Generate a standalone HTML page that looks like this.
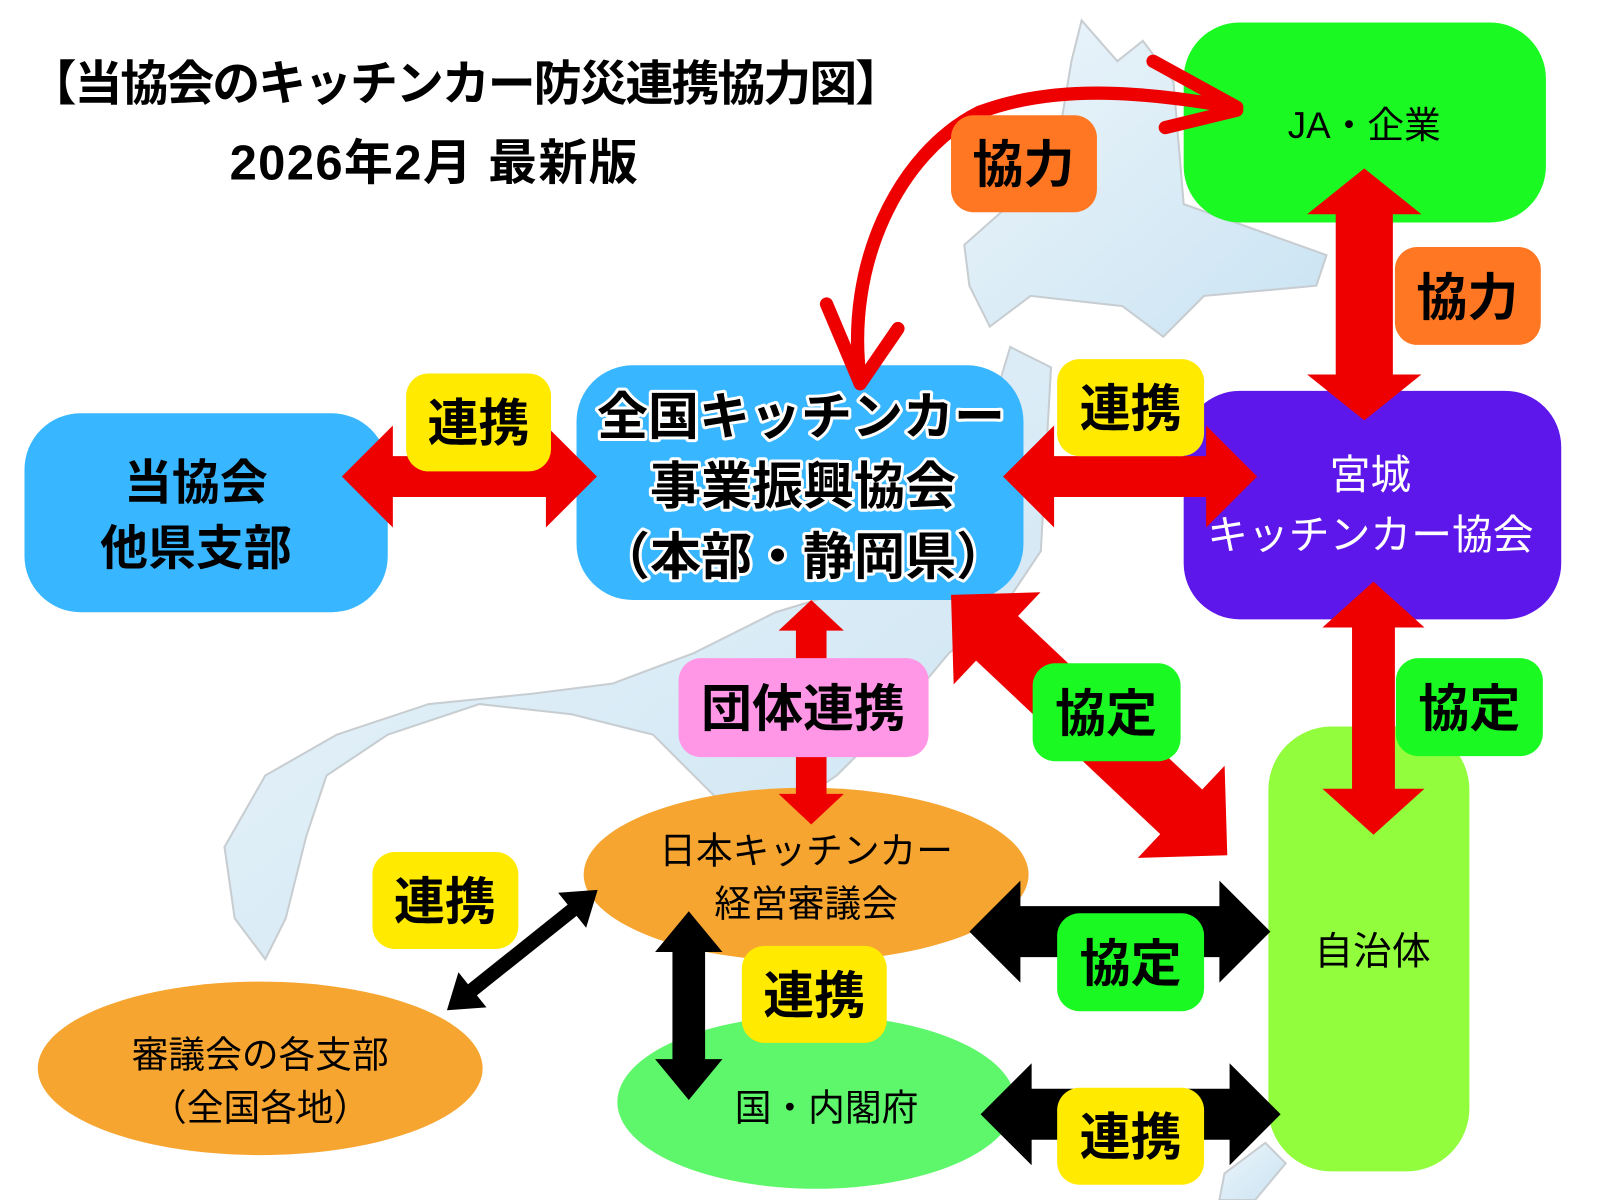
<!DOCTYPE html>
<html><head><meta charset="utf-8"><style>
html,body{margin:0;padding:0;background:#fff;}
svg{display:block;}
text{font-family:"Liberation Sans","Noto Sans CJK JP",sans-serif;}
</style></head><body>
<svg width="1600" height="1200" viewBox="0 0 1568 1176" xmlns="http://www.w3.org/2000/svg">
<defs>
<linearGradient id="mg" x1="0" y1="0" x2="1" y2="1">
<stop offset="0" stop-color="#e6f2fa"/><stop offset="1" stop-color="#b4d8ee"/>
</linearGradient>
</defs>
<rect width="1568" height="1176" fill="#fff"/>
<!-- faint map -->
<g fill="url(#mg)" stroke="#b0b8be" stroke-width="2" opacity="0.7">
<path d="M1060,20 L1095,60 L1120,40 L1150,80 L1160,200 L1300,250 L1290,280 L1180,290 L1140,330 L1100,300 L1010,290 L970,320 L950,280 L945,240 L990,200 L1000,140 L1040,120 L1050,60 Z"/>
<path d="M990,340 L1030,360 L1020,540 L980,600 L930,640 L880,700 L820,760 L760,800 L700,780 L640,720 L560,700 L470,690 L380,720 L320,760 L300,820 L280,900 L260,940 L230,900 L220,830 L260,760 L330,720 L420,690 L520,680 L600,670 L680,640 L760,600 L860,570 L930,520 L960,440 Z"/>
<path d="M1200,1150 L1240,1120 L1260,1140 L1230,1176 L1195,1176 Z"/>
</g>
<!-- boxes -->
<rect x="1160" y="22" width="355" height="196" rx="55" fill="#1bf923"/>
<rect x="1160" y="383" width="370" height="224" rx="55" fill="#5e17eb"/>
<rect x="565" y="358" width="438" height="230" rx="55" fill="#38b6ff"/>
<rect x="24" y="405" width="356" height="195" rx="55" fill="#38b6ff"/>
<rect x="1243" y="712" width="197" height="436" rx="62" fill="#92fd3c"/>
<ellipse cx="790" cy="857" rx="218" ry="85" fill="#f7a531"/>
<ellipse cx="255" cy="1047" rx="218" ry="85" fill="#f7a531"/>
<ellipse cx="800" cy="1080" rx="195" ry="85" fill="#5ef76b"/>
<!-- red curved arrow -->
<g fill="none" stroke="#ee0000" stroke-width="13" stroke-linecap="round">
<path d="M843,372 C828,260 880,150 960,110 C1040,80 1130,92 1210,105"/>
<path d="M1212,105 L1130,60"/><path d="M1212,108 L1142,125"/>
<path d="M843,376 L810,298"/><path d="M843,376 L880,322"/>
</g>
<!-- arrows -->
<g fill="#ee0000">
<polygon points="335,467 385,417 385,447 535,447 535,417 585,467 535,517 535,487 385,487 385,517"/>
<polygon points="983,467 1033,417 1033,447 1182,447 1182,417 1232,467 1182,517 1182,487 1033,487 1033,517"/>
<polygon points="1337,165 1393,210 1365,210 1365,367 1393,367 1337,412 1281,367 1309,367 1309,210 1281,210"/>
<polygon points="1346,570 1396,615 1367,615 1367,773 1396,773 1346,818 1296,773 1325,773 1325,615 1296,615"/>
<polygon points="795,588 827,618 810,618 810,778 827,778 795,808 763,778 780,778 780,618 763,618"/>
<g transform="translate(932,583) rotate(43.3)">
<polygon points="0,0 62,-62 62,-30 310,-30 310,-62 372,0 310,62 310,30 62,30 62,62"/>
</g>
</g>
<g fill="#000">
<polygon points="950,913 1000,863 1000,888 1195,888 1195,863 1245,913 1195,963 1195,938 1000,938 1000,963"/>
<polygon points="961,1092 1011,1042 1011,1067 1205,1067 1205,1042 1255,1092 1205,1142 1205,1117 1011,1117 1011,1142"/>
<polygon points="675,893 708,933 691,933 691,1038 708,1038 675,1078 642,1038 659,1038 659,933 642,933"/>
<g transform="translate(438,990) rotate(-38.6)">
<polygon points="0,0 32,-22 32,-7 157,-7 157,-22 189,0 157,22 157,7 32,7 32,22"/>
</g>
</g>
<!-- labels -->
<g font-size="50" text-anchor="middle" fill="#000" font-weight="bold">
<rect x="398" y="366" width="142" height="96" rx="22" fill="#ffea00"/><text x="469" y="432">連携</text>
<rect x="1036" y="352" width="144" height="95" rx="22" fill="#ffea00"/><text x="1108" y="418">連携</text>
<rect x="932" y="113" width="143" height="95" rx="22" fill="#ff7722"/><text x="1003" y="179">協力</text>
<rect x="1367" y="242" width="143" height="96" rx="22" fill="#ff7722"/><text x="1438" y="309">協力</text>
<rect x="665" y="645" width="245" height="97" rx="22" fill="#ff96e6"/><text x="787" y="712">団体連携</text>
<rect x="1012" y="650" width="145" height="96" rx="22" fill="#1bf923"/><text x="1084" y="717">協定</text>
<rect x="1368" y="645" width="144" height="96" rx="22" fill="#1bf923"/><text x="1440" y="712">協定</text>
<rect x="365" y="835" width="143" height="95" rx="22" fill="#ffea00"/><text x="436" y="901">連携</text>
<rect x="1036" y="895" width="144" height="96" rx="22" fill="#1bf923"/><text x="1108" y="962">協定</text>
<rect x="727" y="927" width="142" height="95" rx="22" fill="#ffea00"/><text x="798" y="993">連携</text>
<rect x="1036" y="1066" width="144" height="95" rx="22" fill="#ffea00"/><text x="1108" y="1132">連携</text>
</g>
<!-- title -->
<text x="28" y="98" font-size="47" font-weight="bold" fill="#000" textLength="857">【当協会のキッチンカー防災連携協力図】</text>
<text x="225" y="176" font-size="48" font-weight="bold" fill="#000" textLength="400">2026年2月 最新版</text>
<!-- box text -->
<g text-anchor="middle">
<text x="1337" y="135" font-size="36" fill="#000">JA・企業</text>
<text x="1343" y="479" font-size="40" fill="#fff">宮城</text>
<text x="1343" y="538" font-size="40" fill="#fff">キッチンカー協会</text>
<g font-size="50" font-weight="bold" fill="#000" stroke="#fff" stroke-width="6" paint-order="stroke" stroke-linejoin="round">
<text x="785" y="426">全国キッチンカー</text>
<text x="787" y="494">事業振興協会</text>
<text x="787" y="563">（本部・静岡県）</text>
</g>
<text x="192" y="489" font-size="47" font-weight="bold" fill="#000">当協会</text>
<text x="192" y="553" font-size="47" font-weight="bold" fill="#000">他県支部</text>
<text x="1345" y="945" font-size="38" fill="#000">自治体</text>
<text x="790" y="846" font-size="36" fill="#000">日本キッチンカー</text>
<text x="790" y="898" font-size="36" fill="#000">経営審議会</text>
<text x="255" y="1046" font-size="36" fill="#000">審議会の各支部</text>
<text x="255" y="1098" font-size="36" fill="#000">（全国各地）</text>
<text x="810" y="1098" font-size="36" fill="#000">国・内閣府</text>
</g>
</svg>
</body></html>
